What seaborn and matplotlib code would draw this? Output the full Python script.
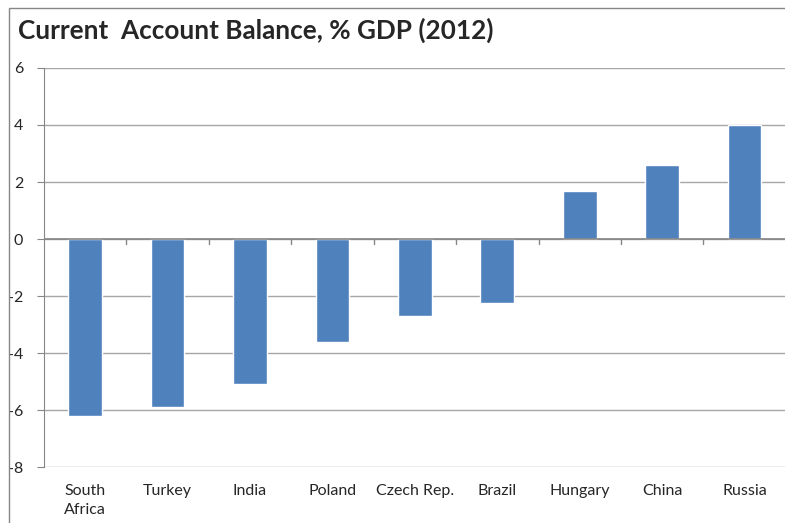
import matplotlib
matplotlib.use("Agg")
import matplotlib.pyplot as plt
import seaborn as sns
import pandas as pd
from matplotlib.patches import Rectangle

# ===== data =====
countries = ["South\nAfrica", "Turkey", "India", "Poland", "Czech Rep.",
             "Brazil", "Hungary", "China", "Russia"]
balance = [-6.2, -5.9, -5.1, -3.6, -2.7, -2.25, 1.7, 2.6, 4.0]
yticks = [-8, -6, -4, -2, 0, 2, 4, 6]

df = pd.DataFrame({"country": countries, "balance": balance})

sns.set_style("white")
plt.rcParams["font.family"] = ["Lato", "DejaVu Sans"]

fig = plt.figure(figsize=(7.85, 5.23), dpi=100)
ax = fig.add_axes([0.056, 0.107, 0.945, 0.763])

sns.barplot(data=df, x="country", y="balance", color="#4F81BD",
            saturation=1, width=0.41, ax=ax, zorder=3)

ax.set_ylim(-8, 6)
ax.set_xlim(-0.5, len(countries) - 0.5)
ax.set_yticks(yticks)
ax.set_yticklabels([str(t) for t in yticks], fontsize=11.5)
ax.yaxis.grid(True, color="#A6A6A6", linewidth=1, zorder=0)
ax.set_xlabel("")
ax.set_ylabel("")

# category labels sit below the plot, not at zero
ax.set_xticks(range(len(countries)))
ax.set_xticklabels(countries, fontsize=11.5, va="top", linespacing=1.45)
ax.tick_params(axis="x", length=0, pad=12)
ax.tick_params(axis="y", left=True, length=5, color="#868686", pad=10)

for s in ["top", "right", "bottom"]:
    ax.spines[s].set_visible(False)
ax.spines["left"].set_color("#868686")

# zero line with small category divider ticks
ax.axhline(0, color="#868686", linewidth=1.2, zorder=4)
for i in range(len(countries) - 1):
    ax.plot([i + 0.5, i + 0.5], [0, -0.18], color="#868686", linewidth=1,
            zorder=4, clip_on=False)

fig.text(0.023, 0.942, "Current  Account Balance, % GDP (2012)",
         fontsize=18.8, fontweight="bold", ha="left", va="center")

# outer chart frame
fig.patches.append(Rectangle((0.0115, -0.05), 1.1, 1.035, transform=fig.transFigure,
                             fill=False, edgecolor="#868686", linewidth=1))

fig.savefig("out.png", dpi=100)
